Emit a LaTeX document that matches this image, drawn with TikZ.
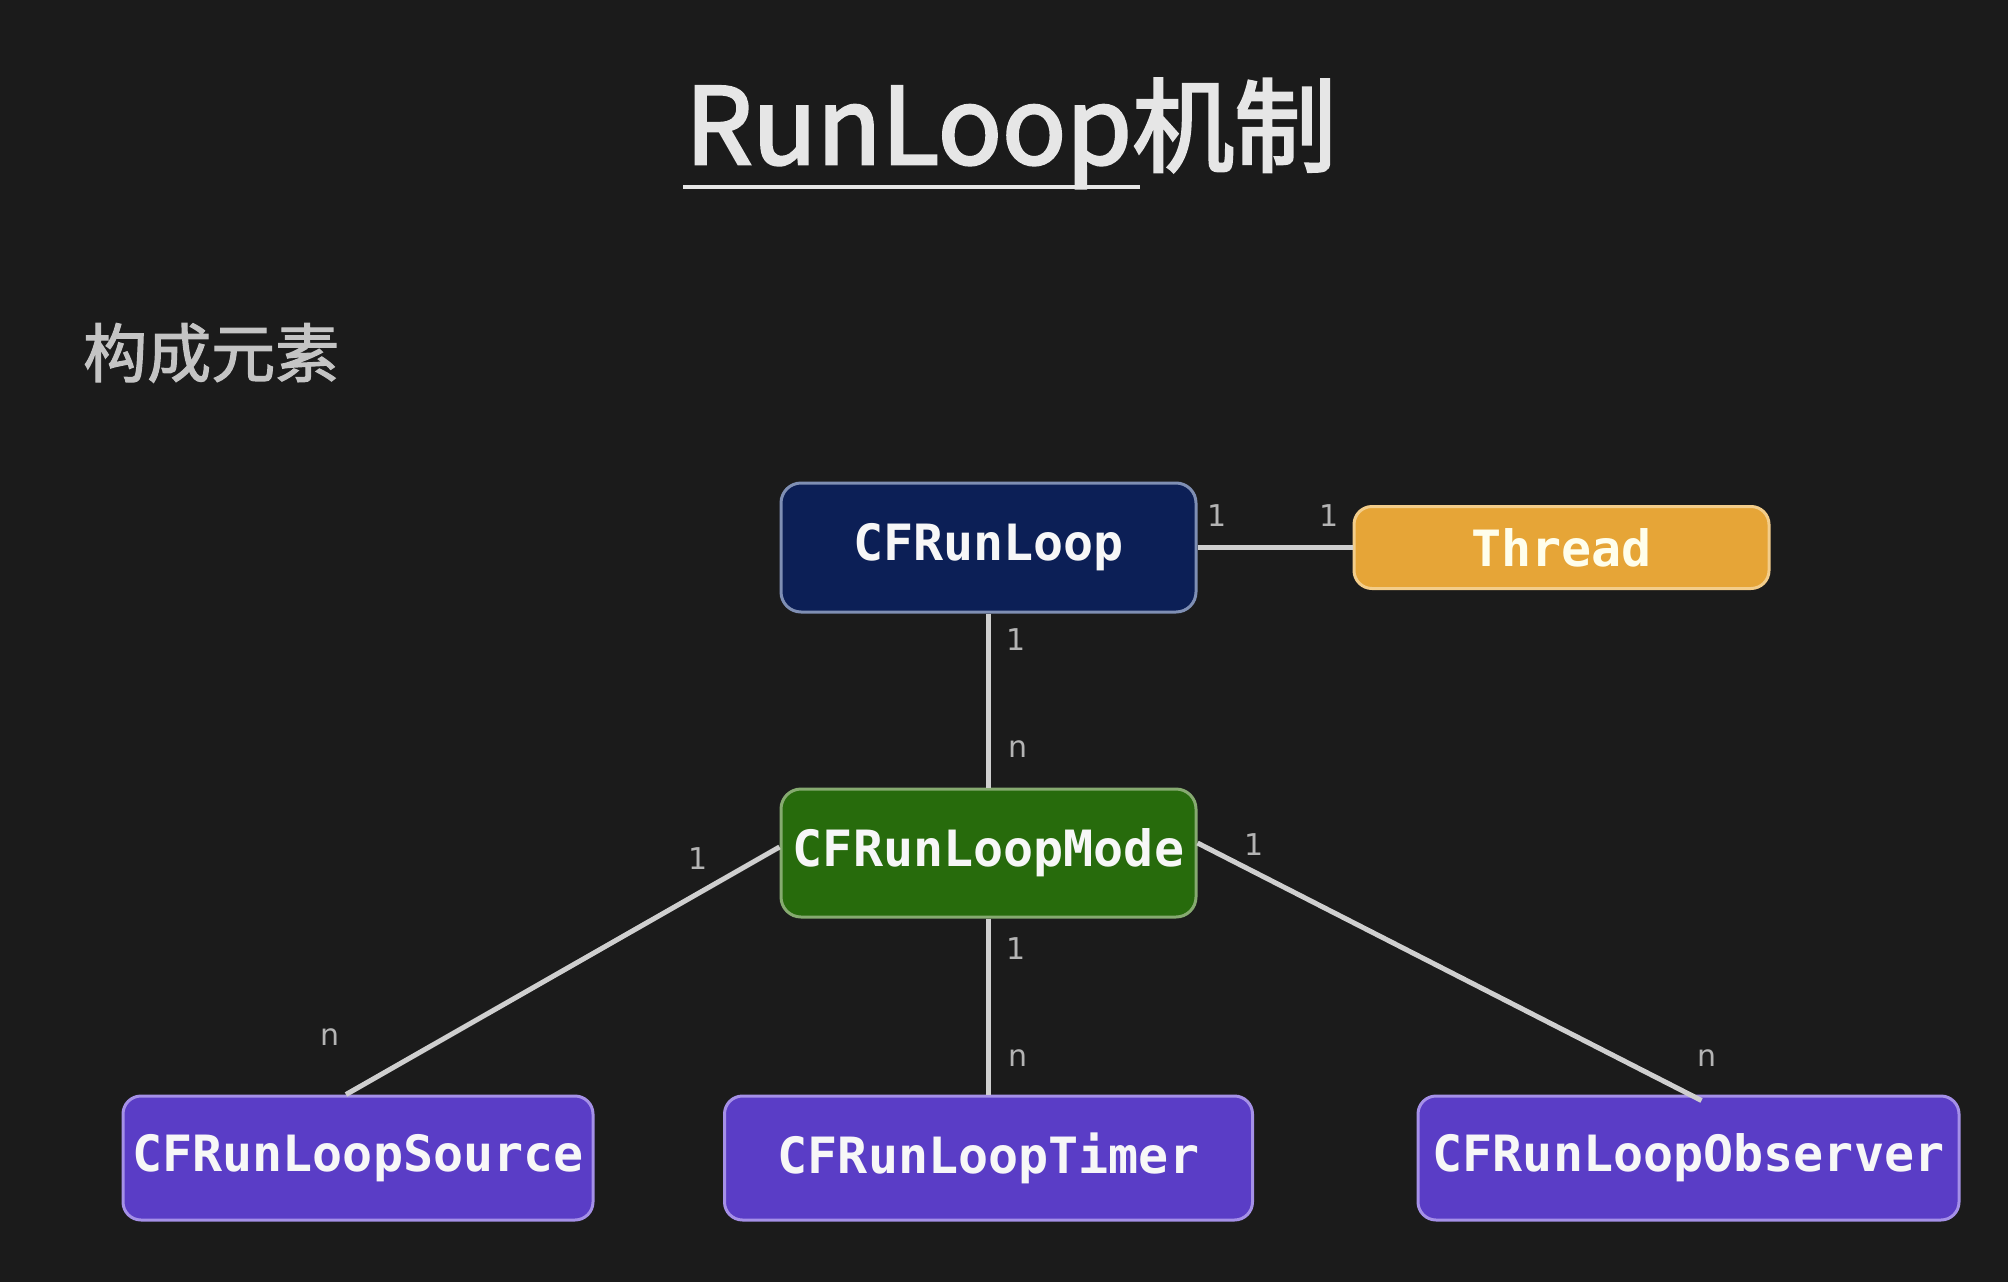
\documentclass[tikz,border=0pt]{standalone}
\usepackage{fontspec}
\setmainfont{DejaVu Sans}
\newfontfamily\cjk{Noto Sans CJK SC}[FakeBold=2.5]
\newfontfamily\cjksub{Noto Sans CJK SC}[FakeBold=1.8]
\newfontfamily\mono{DejaVu Sans Mono}
\definecolor{bg}{HTML}{1B1B1B}
\definecolor{titlec}{HTML}{E6E6E6}
\definecolor{subc}{HTML}{C4C4C4}
\definecolor{linec}{HTML}{CFCFCF}
\definecolor{labc}{HTML}{B4B4B4}
\definecolor{navy}{HTML}{0C1F56}
\definecolor{navyb}{HTML}{7F8FB4}
\definecolor{orangef}{HTML}{E6A537}
\definecolor{orangeb}{HTML}{F3CD8A}
\definecolor{greenf}{HTML}{276B0C}
\definecolor{greenb}{HTML}{86AA70}
\definecolor{purplef}{HTML}{5A3DC6}
\definecolor{purpleb}{HTML}{A590E8}
\begin{document}
\begin{tikzpicture}[x=1pt,y=-1pt,
  box/.style={rounded corners=20pt, line width=3pt, inner sep=0pt,
    font=\mono\bfseries\fontsize{50}{60}\selectfont, text=white!94!gray},
  runloopbox/.style={box, fill=navy, draw=navyb, minimum width=415pt, minimum height=129pt},
  threadbox/.style={box, fill=orangef, draw=orangeb, minimum width=415pt, minimum height=82pt, text=yellow!8!white, rounded corners=18pt},
  modebox/.style={box, fill=greenf, draw=greenb, minimum width=415pt, minimum height=128pt},
  itembox/.style={box, fill=purplef, draw=purpleb, minimum height=124pt, rounded corners=18pt},
  conn/.style={draw=linec, line width=5pt},
  lab/.style={font=\fontsize{30}{36}\selectfont, text=labc, inner sep=0pt}
]
\fill[bg] (0,0) rectangle (2008,1282);
\useasboundingbox (0,0) rectangle (2008,1282);

% title
\node[anchor=base west, inner sep=0pt, text=titlec, font=\cjk\fontsize{106}{120}\selectfont] (t1) at (685,164) {RunLoop};
\node[anchor=base west, inner sep=0pt, text=titlec, font=\cjk\fontsize{102}{120}\selectfont] (t2) at (t1.base east) {机制};
\coordinate (u1) at (683,187);
\coordinate (u2) at (1140,187);
\draw[titlec, line width=4pt] (u1) -- (u2);

\node[anchor=base west, inner sep=0pt, text=subc, font=\cjksub\fontsize{64}{70}\selectfont] (sub) at (83,377) {构成元素};

% nodes
\node[runloopbox] (rl) at (988.5,547.5) {CFRunLoop};
\node[threadbox] (th) at (1561.5,547.5) {Thread};
\node[modebox] (mode) at (988.5,853) {CFRunLoopMode};
\node[itembox, minimum width=470pt] (src) at (358,1158) {CFRunLoopSource};
\node[itembox, minimum width=528pt] (tim) at (988.5,1158) {CFRunLoopTimer};
\node[itembox, minimum width=541pt] (obs) at (1688.5,1158) {CFRunLoopObserver};

% connectors
\draw[conn] (rl.east) -- (th.west);
\draw[conn] (rl.south) -- (mode.north);
\draw[conn] (mode.south) -- (tim.north);
\draw[conn] ([yshift=6pt]mode.west) -- ([xshift=-12pt]src.north);
\draw[conn] ([yshift=10pt]mode.east) -- ([xshift=13pt,yshift=-6pt]obs.north);

% multiplicities
\node[lab] (a1) at (1217,516) {1};
\node[lab] (a2) at (1329,516) {1};
\node[lab] (b1) at (1016,640) {1};
\node[lab] (b2) at (1018,749) {n};
\node[lab] (c1) at (698,859) {1};
\node[lab] (c2) at (330,1037) {n};
\node[lab] (d1) at (1016,949) {1};
\node[lab] (d2) at (1018,1058) {n};
\node[lab] (e1) at (1254,845) {1};
\node[lab] (e2) at (1707,1058) {n};
\end{tikzpicture}
\end{document}
